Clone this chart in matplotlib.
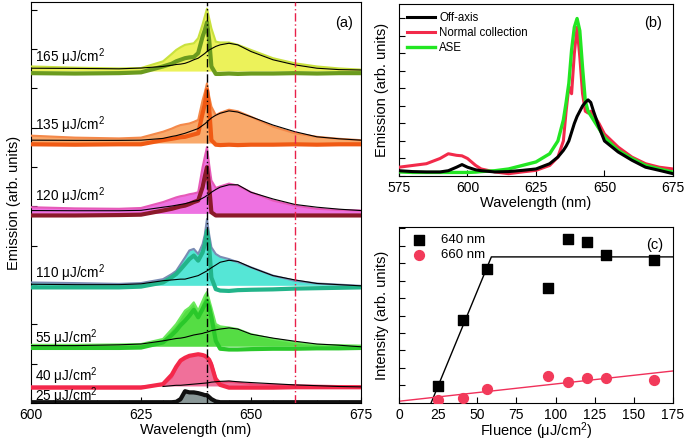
import numpy as np
import matplotlib
matplotlib.use("Agg")
import matplotlib.pyplot as plt
from matplotlib.ticker import MultipleLocator

plt.rcParams['font.family'] = ['Liberation Sans', 'DejaVu Sans']
plt.rcParams['mathtext.fontset'] = 'custom'
plt.rcParams['mathtext.rm'] = 'Liberation Sans'
plt.rcParams['mathtext.it'] = 'Liberation Sans'
plt.rcParams['xtick.direction'] = 'in'
plt.rcParams['ytick.direction'] = 'in'

# ---------------- panel (a): stacked spectra ----------------
wl_a = [600, 610, 620, 625, 630, 632, 633, 634, 635, 636, 637, 638, 639, 639.5,
        640, 640.5, 641, 642, 643, 645, 647, 650, 655, 660, 665, 670, 675]

labels_a = ["165", "135", "120", "110", "55", "40", "25"]
baselines = [8.43, 6.6, 4.81, 2.98, 1.43, 0.42, 0.0]
label_y = [8.8, 7.07, 5.26, 3.29, 1.66, 0.69, 0.18]

fill_165 = [0.13, 0.1, 0.08, 0.09, 0.26, 0.45, 0.55, 0.62, 0.68, 0.7, 0.72, 0.85, 1.2, 1.4,
            1.6, 1.35, 1.1, 0.76, 0.74, 0.74, 0.68, 0.55, 0.34, 0.21, 0.13, 0.08, 0.05]
thick_165 = [-0.04, -0.05, -0.04, -0.02, 0.13, 0.2, 0.26, 0.3, 0.34, 0.36, 0.37, 0.47, 0.89, 1.05,
             1.25, 0.8, 0.13, -0.06, -0.06, -0.05, -0.06, -0.05, -0.05, -0.04, -0.05, -0.04, -0.04]
thin_165 = [0.085, 0.08, 0.07, 0.09, 0.13, 0.16, 0.18, 0.19, 0.21, 0.25, 0.3, 0.34, 0.42, 0.46,
            0.51, 0.55, 0.58, 0.64, 0.68, 0.72, 0.68, 0.51, 0.3, 0.17, 0.085, 0.05, 0.04]

fill_135 = [0.2, 0.15, 0.13, 0.15, 0.3, 0.38, 0.43, 0.47, 0.49, 0.51, 0.55, 0.6, 1.1, 1.3,
            1.53, 1.2, 0.94, 0.72, 0.78, 0.86, 0.82, 0.68, 0.43, 0.26, 0.17, 0.12, 0.085]
thick_135 = [-0.02, -0.03, -0.02, -0.02, 0.085, 0.12, 0.14, 0.16, 0.17, 0.2, 0.23, 0.26, 0.77, 1.0,
             1.36, 0.9, 0.085, -0.03, -0.04, -0.03, -0.04, -0.03, -0.03, -0.02, -0.03, -0.02, -0.02]
thin_135 = [0.085, 0.08, 0.08, 0.085, 0.13, 0.18, 0.2, 0.23, 0.26, 0.3, 0.34, 0.38, 0.46, 0.5,
            0.55, 0.6, 0.65, 0.72, 0.77, 0.83, 0.8, 0.68, 0.47, 0.3, 0.17, 0.12, 0.085]

fill_120 = [0.17, 0.14, 0.13, 0.15, 0.3, 0.38, 0.42, 0.45, 0.47, 0.5, 0.52, 0.55, 1.19, 1.45,
            1.7, 1.25, 0.85, 0.66, 0.7, 0.77, 0.72, 0.55, 0.34, 0.21, 0.13, 0.1, 0.085]
thick_120 = [-0.04, -0.04, -0.03, -0.02, 0.085, 0.13, 0.16, 0.19, 0.21, 0.25, 0.3, 0.34, 0.68, 0.95,
             1.19, 0.7, 0.04, -0.04, -0.04, -0.04, -0.04, -0.04, -0.04, -0.04, -0.04, -0.04, -0.04]
thin_120 = [0.085, 0.08, 0.08, 0.09, 0.17, 0.2, 0.22, 0.24, 0.26, 0.29, 0.32, 0.34, 0.4, 0.43,
            0.47, 0.5, 0.55, 0.62, 0.68, 0.74, 0.74, 0.55, 0.38, 0.24, 0.17, 0.12, 0.085]

fill_110 = [0.085, 0.07, 0.05, 0.07, 0.17, 0.3, 0.38, 0.55, 0.72, 0.9, 0.94, 0.81, 1.06, 1.3,
            1.7, 1.3, 0.98, 0.81, 0.74, 0.68, 0.6, 0.47, 0.26, 0.13, 0.06, 0.03, 0.0]
thick_110 = [-0.04, -0.04, -0.04, -0.02, 0.085, 0.22, 0.3, 0.42, 0.55, 0.68, 0.77, 0.64, 0.85, 1.05,
             1.4, 1.0, 0.21, -0.085, -0.12, -0.13, -0.11, -0.1, -0.09, -0.07, -0.06, -0.05, -0.04]
thin_110 = [0.04, 0.03, 0.03, 0.05, 0.13, 0.15, 0.16, 0.17, 0.17, 0.2, 0.23, 0.26, 0.32, 0.35,
            0.38, 0.42, 0.46, 0.53, 0.6, 0.65, 0.62, 0.47, 0.26, 0.15, 0.06, 0.03, 0.0]

fill_55 = [0.05, 0.05, 0.06, 0.07, 0.2, 0.45, 0.58, 0.75, 0.92, 1.0, 1.13, 0.92, 1.17, 1.3,
           1.39, 1.2, 1.0, 0.58, 0.52, 0.49, 0.45, 0.32, 0.2, 0.11, 0.05, 0.04, 0.03]
thick_55 = [-0.03, -0.03, -0.03, -0.02, 0.11, 0.3, 0.41, 0.55, 0.66, 0.79, 0.94, 0.75, 0.96, 1.07,
            1.17, 1.0, 0.75, 0.15, -0.05, -0.07, -0.07, -0.06, -0.05, -0.05, -0.04, -0.04, -0.03]
thin_55 = [0.03, 0.03, 0.05, 0.07, 0.15, 0.19, 0.21, 0.22, 0.24, 0.27, 0.3, 0.32, 0.34, 0.36,
           0.37, 0.39, 0.41, 0.43, 0.45, 0.48, 0.45, 0.32, 0.22, 0.14, 0.07, 0.04, 0.0]

fill_40 = [0, 0, 0, 0, 0.04, 0.23, 0.45, 0.65, 0.72, 0.78, 0.8, 0.82, 0.8, 0.78,
           0.74, 0.68, 0.61, 0.23, 0.1, 0.12, 0.1, 0.06, 0.04, 0.03, 0.02, 0.01, 0]
thick_40 = [-0.03, -0.03, -0.03, -0.03, 0.06, 0.3, 0.5, 0.66, 0.73, 0.78, 0.8, 0.82, 0.8, 0.78,
            0.74, 0.68, 0.55, 0.17, 0.04, -0.03, -0.03, -0.03, -0.03, -0.02, -0.02, -0.02, -0.02]
thin_40 = [np.nan, np.nan, np.nan, np.nan, 0.0, 0.02, 0.03, 0.03, 0.04, 0.05, 0.06, 0.07, 0.08, 0.085,
           0.09, 0.1, 0.11, 0.12, 0.13, 0.14, 0.12, 0.1, 0.07, 0.04, 0.02, 0.0, -0.01]

fill_25 = [0, 0, 0, 0, 0, 0, 0, 0.05, 0.25, 0.27, 0.24, 0.26, 0.22, 0.2,
           0.18, 0.14, 0.1, 0.02, 0, 0, 0, 0, 0, 0, 0, 0, 0]
thick_25 = [0.02, 0.02, 0.02, 0.02, 0.02, 0.02, 0.03, 0.1, 0.3, 0.27, 0.27, 0.25, 0.22, 0.2,
            0.2, 0.15, 0.1, 0.04, 0.02, 0.02, 0.02, 0.02, 0.02, 0.02, 0.02, 0.02, 0.02]
thin_25 = [np.nan] * len(wl_a)

fills = [fill_165, fill_135, fill_120, fill_110, fill_55, fill_40, fill_25]
thicks = [thick_165, thick_135, thick_120, thick_110, thick_55, thick_40, thick_25]
thins = [thin_165, thin_135, thin_120, thin_110, thin_55, thin_40, thin_25]

fill_colors = ['#ecf25a', '#f9a96b', '#ee72e2', '#55e6d6', '#55dd44', '#f0709a', '#8a9898']
edge_colors = ['#c9e13e', '#f4894a', '#e65ab8', '#7a8cb4', '#6be85c', '#f04a78', '#707878']
thick_colors = ['#6b9b1e', '#f05a14', '#8b1a2a', '#22b48a', '#2ac82a', '#f4284a', '#111111']

# ---------------- panel (b): three spectra ----------------
wl_b = [575, 580, 585, 590, 593, 596, 598, 600, 603, 605, 610, 615, 620, 625, 630, 633,
        635, 636, 637, 638, 639, 640, 641, 642, 643, 644, 645, 646, 648, 650, 655, 660,
        665, 670, 675]
off_axis = [0.3, 0.25, 0.23, 0.23, 0.3, 0.5, 0.65, 0.5, 0.35, 0.3, 0.23, 0.25, 0.32, 0.4, 0.7, 1.08,
            1.46, 1.7, 2.0, 2.5, 3.0, 3.4, 3.7, 4.0, 4.2, 4.35, 4.2, 3.7, 2.8, 2.0, 1.37, 0.9,
            0.5, 0.32, 0.13]
normal = [0.5, 0.6, 0.7, 1.0, 1.27, 1.18, 1.15, 1.0, 0.6, 0.4, 0.23, 0.13, 0.23, 0.32, 0.6, 1.08,
          2.0, 3.7, 5.1, 4.7, 7.0, 8.5, 6.8, 4.7, 3.7, 3.6, 3.7, 3.5, 3.0, 2.4, 1.65, 1.08,
          0.7, 0.5, 0.4]
ase = [0.23, 0.2, 0.2, 0.2, 0.2, 0.2, 0.2, 0.2, 0.22, 0.25, 0.3, 0.4, 0.6, 0.8, 1.27, 2.0,
       3.2, 4.2, 5.3, 7.2, 8.5, 9.0, 8.3, 6.2, 4.3, 3.7, 3.45, 3.2, 2.7, 2.2, 1.46, 1.0,
       0.6, 0.4, 0.22]

# ---------------- panel (c): intensity vs fluence ----------------
fluence = [25, 41, 56, 95, 108, 120, 132, 163]
int_640 = [0.97, 4.74, 7.66, 6.57, 9.37, 9.2, 8.46, 8.17]
int_660 = [0.17, 0.29, 0.8, 1.54, 1.2, 1.4, 1.4, 1.3]
fit640_x = [20.5, 59, 175]
fit640_y = [0, 8.35, 8.35]
fit660_x = [0, 175]
fit660_y = [0.1, 1.83]

fig = plt.figure(figsize=(6.86, 4.41), dpi=100)
ax_a = fig.add_axes([0.0452, 0.0862, 0.4810, 0.9093])
ax_b = fig.add_axes([0.5816, 0.601, 0.3994, 0.390])
ax_c = fig.add_axes([0.5816, 0.0862, 0.3994, 0.3991])

# panel (a)
for i in range(len(labels_a)):
    b = baselines[i]
    f = np.array(fills[i]) + b
    ax_a.fill_between(wl_a, b, f, facecolor=fill_colors[i], edgecolor='none', zorder=2)
    ax_a.plot(wl_a, f, color=edge_colors[i], lw=1.5, zorder=3)
    ax_a.plot(wl_a, np.array(thicks[i]) + b, color=thick_colors[i], lw=3.0, zorder=4)
    ax_a.plot(wl_a, np.array(thins[i]) + b, color='black', lw=0.8, zorder=5)
    ax_a.text(601, label_y[i], labels_a[i] + " \u03bcJ/cm$^2$", fontsize=9.8,
              va='center', ha='left', zorder=6)

ax_a.axvline(640, color='black', lw=1, ls=(0, (6, 2, 1, 2)), zorder=6)
ax_a.axvline(660, color='#e8204a', lw=1, ls=(0, (6, 2, 1, 2)), zorder=6)
ax_a.set_xlim(600, 675)
ax_a.set_ylim(0, 10.2)
ax_a.set_xticks([600, 625, 650, 675])
ax_a.xaxis.set_minor_locator(MultipleLocator(5))
ax_a.set_yticks(range(0, 11))
ax_a.set_yticklabels([])
ax_a.tick_params(labelsize=10, length=4)
ax_a.tick_params(which='minor', length=2)
ax_a.set_xlabel("Wavelength (nm)", fontsize=10.5, labelpad=1)
ax_a.set_ylabel("Emission (arb. units)", fontsize=10.5, labelpad=4)
ax_a.text(0.975, 0.965, "(a)", transform=ax_a.transAxes, ha='right', va='top', fontsize=10.5)

# panel (b)
ax_b.plot(wl_b, normal, color='#f22a4a', lw=2.2, label='Normal collection', zorder=3)
ax_b.plot(wl_b, ase, color='#22e622', lw=2.4, label='ASE', zorder=4)
ax_b.plot(wl_b, off_axis, color='black', lw=2.2, label='Off-axis', zorder=5)
ax_b.set_xlim(575, 675)
ax_b.set_ylim(0, 9.83)
ax_b.set_xticks([575, 600, 625, 650, 675])
ax_b.set_yticks(range(0, 10))
ax_b.set_yticklabels([])
ax_b.tick_params(labelsize=10, length=4)
ax_b.set_xlabel("Wavelength (nm)", fontsize=10.5, labelpad=1)
ax_b.set_ylabel("Emission (arb. units)", fontsize=10.5, labelpad=4)
h, l = ax_b.get_legend_handles_labels()
order = [2, 0, 1]
ax_b.legend([h[k] for k in order], [l[k] for k in order], loc='upper left', frameon=False,
            fontsize=8.3, handlelength=2.4, handletextpad=0.4, labelspacing=0.25,
            borderaxespad=0.3)
ax_b.text(0.96, 0.93, "(b)", transform=ax_b.transAxes, ha='right', va='top', fontsize=10.5)

# panel (c)
ax_c.plot(fit640_x, fit640_y, color='black', lw=1, zorder=2)
ax_c.plot(fit660_x, fit660_y, color='#f0305a', lw=1, zorder=2)
ax_c.scatter(fluence, int_640, marker='s', s=45, color='black', label='640 nm', zorder=3)
ax_c.scatter(fluence, int_660, marker='o', s=50, color='#f23a5a', label='660 nm', zorder=3)
ax_c.set_xlim(0, 175)
ax_c.set_ylim(0, 10.06)
ax_c.set_xticks(range(0, 176, 25))
ax_c.set_yticks(range(0, 11))
ax_c.set_yticklabels([])
ax_c.tick_params(labelsize=10, length=4)
ax_c.set_xlabel("Fluence (\u03bcJ/cm$^2$)", fontsize=10.5, labelpad=-1)
ax_c.set_ylabel("Intensity (arb. units)", fontsize=10.5, labelpad=4)
ax_c.legend(loc='upper left', frameon=False, fontsize=9.5, handletextpad=0.6,
            labelspacing=0.2, borderaxespad=0.15, scatterpoints=1)
ax_c.text(0.965, 0.895, "(c)", transform=ax_c.transAxes, ha='right', va='center', fontsize=10.5)

fig.savefig("out.png", dpi=100)
